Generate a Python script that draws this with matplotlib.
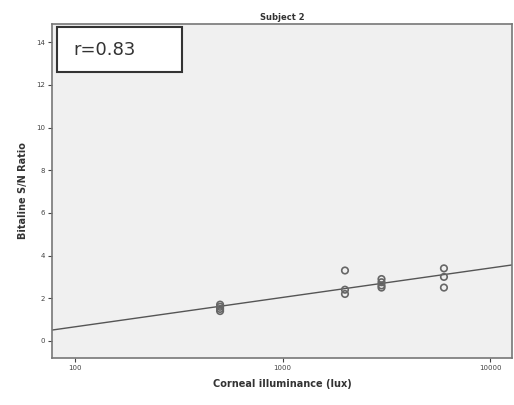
import numpy as np
import matplotlib
matplotlib.use("Agg")
import matplotlib.pyplot as plt
from matplotlib.patches import Rectangle

lux = [500, 500, 500, 500, 2000, 2000, 2000, 3000, 3000, 3000, 3000, 6000, 6000, 6000]
ratio = [1.4, 1.5, 1.6, 1.7, 3.3, 2.4, 2.2, 2.5, 2.6, 2.75, 2.9, 3.4, 3.0, 2.5]
fit_slope = 1.376
fit_intercept = -2.09
r_text = "r=0.83"
title = "Subject 2"
xlabel = "Corneal illuminance (lux)"
ylabel = "Bitaline S/N Ratio"
yticks = [0, 2, 4, 6, 8, 10, 12, 14]
xticks = [100, 1000, 10000]

fig = plt.figure(figsize=(5.14, 4.05), dpi=100)
ax = fig.add_axes([52/514, 47/405, 460/514, 334/405])
ax.set_facecolor("#f0f0f0")
ax.set_xscale("log")
ax.set_xlim(77.4, 12770)
ax.set_ylim(-0.8, 14.85)

xs = np.logspace(np.log10(77.4), np.log10(12770), 50)
ax.plot(xs, fit_intercept + fit_slope*np.log10(xs), color="#555555", lw=1.0)
ax.scatter(lux, ratio, s=22, facecolors="none", edgecolors="#666666", linewidths=1.2, zorder=3)

ax.set_xticks(xticks)
ax.set_xticklabels([str(t) for t in xticks])
ax.xaxis.set_minor_locator(matplotlib.ticker.NullLocator())
ax.set_yticks(yticks)
ax.tick_params(labelsize=5, colors="#444444", length=3, width=0.8, pad=2)
for s in ax.spines.values():
    s.set_color("#777777")
    s.set_linewidth(1.2)

ax.set_title(title, fontsize=6, fontweight="bold", color="#333333", pad=3)
ax.set_xlabel(xlabel, fontsize=7, fontweight="bold", color="#333333", labelpad=6)
ax.set_ylabel(ylabel, fontsize=7, fontweight="bold", color="#333333", labelpad=6)

box = Rectangle((57/514, (405-72)/405), 125/514, 45/405, transform=fig.transFigure,
                facecolor="white", edgecolor="#333333", lw=1.5, zorder=5)
fig.patches.append(box)
fig.text(73/514, (405-50)/405, r_text, fontsize=13, color="#333333", va="center", ha="left", zorder=6)

fig.savefig("out.png", dpi=100)
